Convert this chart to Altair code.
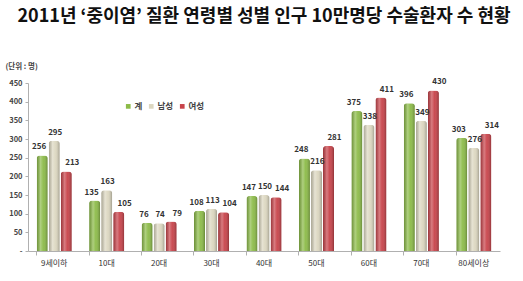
import altair as alt
import pandas as pd

categories = ["9세이하", "10대", "20대", "30대", "40대", "50대", "60대", "70대", "80세이상"]
series = ["계", "남성", "여성"]
total = [256, 135, 76, 108, 147, 248, 375, 396, 303]
male = [295, 163, 74, 113, 150, 216, 338, 349, 276]
female = [213, 105, 79, 104, 144, 281, 411, 430, 314]
colors = ["#8cbb48", "#dcd7c0", "#c8434a"]

rows = []
for i, c in enumerate(categories):
    for s, vals in zip(series, [total, male, female]):
        rows.append({"age": c, "series": s, "value": vals[i]})
df = pd.DataFrame(rows)

FONT = "Noto Sans CJK KR"

x = alt.X("age:N", sort=categories,
          scale=alt.Scale(paddingInner=0.33, paddingOuter=0.165),
          axis=alt.Axis(title=None, labelAngle=0, labelFont=FONT, labelFontSize=8,
                        labelColor="#333333", domainColor="#b0b0b0", tickColor="#b0b0b0",
                        tickSize=4, bandPosition=0, labelPadding=4))
xo = alt.XOffset("series:N", sort=series, scale=alt.Scale(domain=series, paddingInner=0.08))
y = alt.Y("value:Q",
          scale=alt.Scale(domain=[0, 450], nice=False),
          axis=alt.Axis(values=list(range(0, 451, 50)), grid=False,
                        labelExpr="datum.value == 0 ? '-' : datum.label",
                        labelFont=FONT, labelFontSize=7.5, labelFontWeight="bold",
                        labelColor="#444444", domainColor="#b0b0b0", tickColor="#b0b0b0",
                        tickSize=3, labelPadding=3,
                        title="(단위 : 명)", titleAngle=0, titleFont=FONT, titleFontSize=7.5,
                        titleFontWeight="bold", titleColor="#444444", titleAlign="left",
                        titleBaseline="middle", titleX=-23, titleY=-17))

bars = alt.Chart(df).mark_bar(cornerRadiusTopLeft=3, cornerRadiusTopRight=3).encode(
    x=x, xOffset=xo, y=y,
    color=alt.Color("series:N", sort=series,
                    scale=alt.Scale(domain=series, range=colors),
                    legend=alt.Legend(title=None, orient="none", direction="horizontal",
                                      legendX=96, legendY=19, symbolType="square",
                                      symbolSize=22, labelFont=FONT, labelFontSize=8.5,
                                      labelFontWeight="bold", labelColor="#444444",
                                      columnPadding=4, labelOffset=2, symbolStrokeWidth=0)),
)

shade = alt.Chart(df).mark_bar(
    cornerRadiusTopLeft=3, cornerRadiusTopRight=3,
    fill=alt.Gradient(gradient="linear", x1=0, x2=1, y1=0, y2=0, stops=[
        alt.GradientStop(offset=0, color="rgba(0,0,0,0.22)"),
        alt.GradientStop(offset=0.35, color="rgba(255,255,255,0.30)"),
        alt.GradientStop(offset=0.6, color="rgba(255,255,255,0.05)"),
        alt.GradientStop(offset=1, color="rgba(0,0,0,0.28)"),
    ]),
).encode(x=x, xOffset=xo, y=y)

label_layers = []
for s, dx in zip(series, [-3, 1, 6]):
    label_layers.append(
        alt.Chart(df).transform_filter(alt.datum.series == s).mark_text(
            dy=-8, dx=dx, font=FONT, fontSize=8, fontWeight="bold", color="#333333"
        ).encode(x=x, xOffset=xo, y=y, text="value:Q")
    )

chart = alt.layer(bars, shade, *label_layers).properties(
    width=472, height=168,
    autosize=alt.AutoSizeParams(type="none"),
    padding={"left": 28, "top": 83, "right": 23, "bottom": 30},
    title=alt.TitleParams("2011년 ‘중이염’ 질환 연령별 성별 인구 10만명당 수술환자 수 현황",
                          font=FONT, fontSize=18, fontWeight="bold", color="#111111",
                          anchor="middle", offset=36),
).configure_view(stroke=None)

chart.save("out.html", embed_options={"renderer": "svg", "actions": False})
